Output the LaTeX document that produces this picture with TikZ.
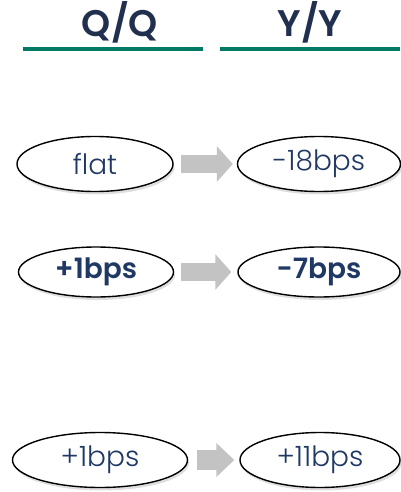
\documentclass[tikz,border=0pt]{standalone}
\usepackage{fontspec}
\setmainfont{Poppins}[UprightFont=* Light,BoldFont=* SemiBold]
\usetikzlibrary{shapes.geometric,shadows,arrows.meta}
\definecolor{navy}{HTML}{1F3864}
\definecolor{headnavy}{HTML}{22304F}
\definecolor{rulegreen}{HTML}{007A64}
\definecolor{arrowgray}{HTML}{C3C3C3}
\tikzset{
  oval/.style={ellipse,draw,line width=1.4pt,fill=white,inner sep=0pt,
    drop shadow={shadow xshift=1.5pt,shadow yshift=-3pt,opacity=0.25,fill=gray},
    text=navy,font=\fontsize{28}{32}\selectfont},
  head/.style={text=headnavy,font=\fontsize{37}{40}\selectfont\bfseries},
  step arrow/.style={draw=arrowgray,line width=18pt,
    -{Triangle[length=16pt,width=35pt]}}
}
\begin{document}
\begin{tikzpicture}[x=1pt,y=-1pt]
      \useasboundingbox (0,0) rectangle (400,492);
      % headers
      \path (120,22) node[head] (hq) {Q/Q};
      \path (310,22) node[head] (hy) {Y/Y};
      \draw[rulegreen,line width=3.5pt] (23,49)--(203,49);
      \draw[rulegreen,line width=3.5pt] (220,49)--(400,49);
      % first row
      \path (95,164) node[oval,minimum width=156pt,minimum height=55pt] (qa) {flat};
      \path (319,164) node[oval,minimum width=163pt,minimum height=55pt] (ya) {-18bps};
      \draw[step arrow,shorten <=7pt,shorten >=4pt] (qa.east)--(ya.west);
      % second row
      \path (96,272) node[oval,minimum width=155pt,minimum height=50pt,font=\fontsize{28}{32}\selectfont\bfseries] (qb) {+1bps};
      \path (319,272) node[oval,minimum width=162pt,minimum height=50pt,font=\fontsize{28}{32}\selectfont\bfseries] (yb) {-7bps};
      \draw[step arrow,shorten <=7pt,shorten >=6pt] (qb.east)--(yb.west);
      % third row
      \path (100,460) node[oval,minimum width=175pt,minimum height=55pt] (qc) {+1bps};
      \path (320,460) node[oval,minimum width=160pt,minimum height=55pt] (yc) {+11bps};
      \draw[step arrow,line width=20pt,-{Triangle[length=18pt,width=33pt]},shorten <=9pt,shorten >=5pt] (qc.east)--(yc.west);
\end{tikzpicture}
\end{document}
